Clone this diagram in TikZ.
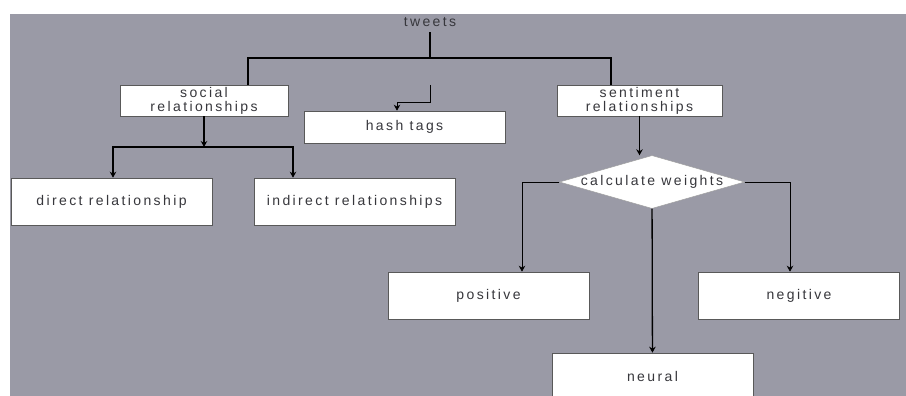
\documentclass[tikz,border=0pt]{standalone}
\usepackage{fontspec}
\newfontfamily\boxfont[LetterSpace=17]{Liberation Sans}
\usepackage{tikz}
\usetikzlibrary{shapes.geometric}
\usetikzlibrary{shapes,arrows,arrows.meta}
\usetikzlibrary{positioning}
\definecolor{bggray}{RGB}{154,154,166}
\definecolor{txtgray}{RGB}{55,55,60}

\begin{document}
\begin{tikzpicture}[->,>={Stealth[length=6pt,width=6.5pt]},x=1pt,y=1pt,node distance=243pt,
  box/.style={rectangle, draw=black!65, fill=white, line width=0.6pt,
    minimum width=201pt, minimum height=47pt, inner sep=1pt, align=center,
    text=txtgray, font=\boxfont\fontsize{14}{14}\selectfont},
  link/.style={line width=1.3pt, draw=black},
  thinlink/.style={line width=0.8pt, draw=black}]

  \useasboundingbox (0,0) rectangle (906,-396);
  \fill[bggray] (10,-14) rectangle (906,-396);

  \node[text=txtgray, font=\boxfont\fontsize{14}{14}\selectfont] (tweets) at (430,-22) {tweets};
  \node[box, minimum width=168pt, minimum height=31pt] (social) at (204,-100.5) {social\\relationships};
  \node[box, minimum height=32pt] (hash) at (404.5,-127) {hash tags};
  \node[box, minimum width=165pt, minimum height=31pt] (sentiment) at (639.5,-100.5) {sentiment\\relationships};
  \node[box] (direct) at (111.5,-201.5) {direct relationship};
  \node[box] (indirect) [right of=direct] {indirect relationships};
  \node[diamond, draw=black!40, fill=white, aspect=3.6, inner sep=-2pt,
    minimum width=185pt, minimum height=53pt, text=txtgray,
    font=\boxfont\fontsize{14}{14}\selectfont] (weights) at (652,-182) {calculate weights};
  \node[box] (positive) at (488.5,-295.5) {positive};
  \node[box] (negitive) [right of=positive, node distance=310.5pt] {negitive};
  \node[box] (neural) at (652.5,-376.5) {neural};

  \coordinate (split) at (430,-58);
  \coordinate (hashtop) at (430,-85);
  \coordinate (ssplit) at (204,-147);

  % tweets to the two branches
  \draw[link,-] ([yshift=-2pt]tweets.south) -- (split);
  \draw[link,-] (split) -| ([xshift=44pt]social.north);
  \draw[link,-] (split) -| ([xshift=-28.5pt]sentiment.north);
  \draw[thinlink] (hashtop) -- ++(0,-17) -| ([xshift=-7.5pt]hash.north);

  % social relationships
  \draw[link] (social) -- (ssplit);
  \draw[link] (ssplit) -| ([xshift=1.5pt]direct.north);
  \draw[link] (ssplit) -| ([xshift=-61.5pt]indirect.north);

  % sentiment relationships
  \draw[link] (sentiment) -- (sentiment.south |- weights.north);
  \draw[thinlink] (weights.west) -| ([xshift=33.5pt]positive.north);
  \draw[thinlink] (weights.east) -| ([xshift=-9pt]negitive.north);
  \draw[link] (weights) -- (neural);
\end{tikzpicture}
\end{document}
